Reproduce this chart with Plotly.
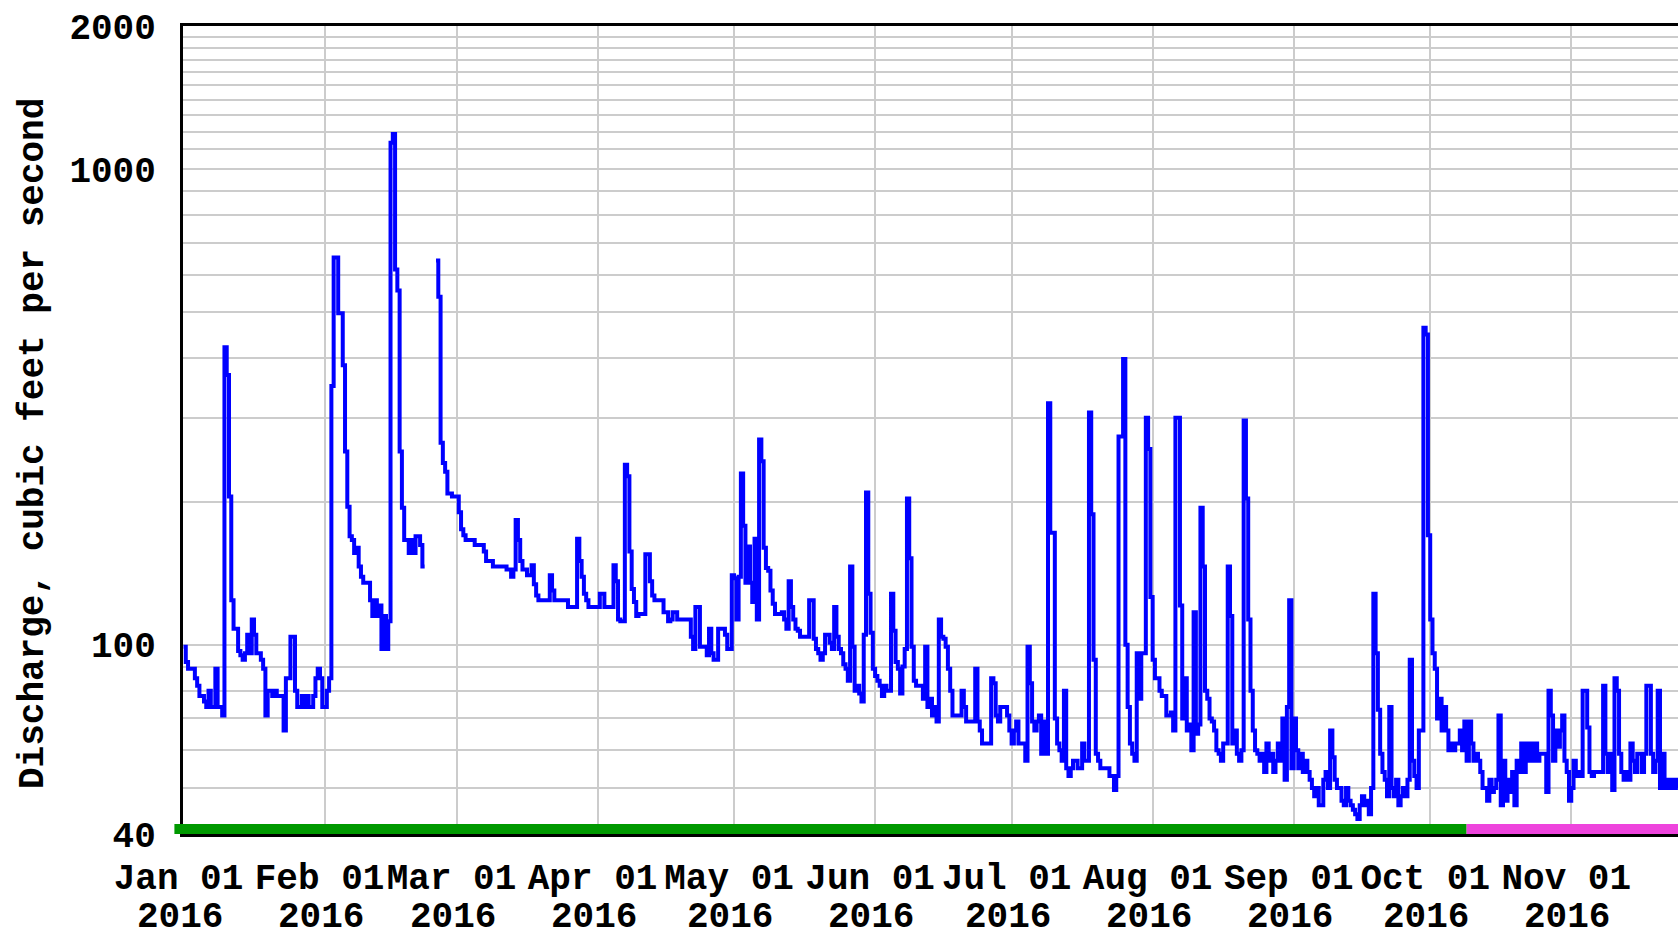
import pandas as pd
import plotly.graph_objects as go

# Discharge (cubic feet per second), two readings per day (00:00, 12:00), 2016
jan = [99, 92, 89, 89, 89, 85, 82, 78, 78, 76, 74, 80, 74, 74, 89, 74, 74, 71, 422, 369,
       205, 124, 108, 108, 97, 95, 93, 96, 105, 96, 113, 105, 96, 96, 93, 89, 71, 80, 80, 78,
       80, 78, 78, 78, 66, 85, 85, 104, 104, 80, 74, 74, 78, 74, 78, 74, 74, 78, 85, 89, 85, 74]
feb = [74, 80, 85, 350, 652, 652, 498, 498, 387, 255, 195, 169, 166, 156, 160, 146, 139, 135, 135, 135,
       124, 115, 124, 115, 121, 98, 115, 98, 112, 1137, 1186, 615, 556, 255, 194, 166, 166, 156, 166, 156,
       169, 169, 162, 146, 146, None, None, None, None, 643, 539, 266, 241, 231, 208, 208, 205, 205]
mar = [205, 190, 175, 170, 166, 166, 166, 166, 162, 162, 162, 162, 157, 150, 150, 150, 146, 146, 146, 146,
       146, 146, 144, 144, 139, 144, 183, 166, 150, 144, 144, 140, 140, 147, 134, 127, 124, 124, 124, 124,
       124, 140, 130, 124, 124, 124, 124, 124, 124, 120, 120, 120, 120, 167, 150, 139, 128, 124, 120, 120,
       120, 120]
apr = [120, 128, 128, 120, 120, 120, 120, 147, 136, 113, 112, 112, 239, 226, 157, 131, 123, 115, 116, 116,
       116, 155, 155, 136, 127, 124, 124, 124, 124, 117, 117, 112, 113, 117, 117, 113, 113, 113, 113, 113,
       113, 104, 98, 120, 120, 99, 99, 99, 95, 108, 96, 93, 93, 108, 108, 108, 105, 98, 98, 140]
may = [138, 113, 139, 229, 178, 135, 161, 135, 123, 167, 113, 270, 243, 160, 145, 143, 130, 122, 116, 116,
       116, 117, 113, 108, 136, 120, 113, 108, 107, 104, 104, 104, 104, 124, 124, 103, 98, 96, 93, 96,
       105, 105, 101, 98, 120, 104, 98, 96, 91, 89, 84, 146, 99, 80, 82, 79, 76, 105, 209, 128,
       106, 89]
jun = [86, 84, 82, 78, 82, 80, 80, 128, 107, 92, 89, 79, 90, 98, 203, 152, 99, 84, 82, 82,
       82, 77, 99, 74, 77, 71, 74, 69, 113, 104, 103, 99, 89, 80, 71, 71, 71, 71, 80, 74,
       69, 69, 69, 69, 89, 69, 66, 62, 62, 62, 62, 85, 83, 71, 69, 74, 74, 74, 71, 66]
jul = [62, 66, 69, 62, 62, 62, 57, 99, 83, 69, 66, 69, 71, 59, 69, 59, 322, 172, 172, 70,
       62, 60, 57, 80, 55, 53, 55, 57, 57, 55, 55, 62, 57, 57, 308, 188, 93, 59, 57, 55,
       55, 55, 55, 53, 53, 49.5, 53, 274, 274, 399, 100, 74, 62, 59, 57, 96, 77, 96, 96, 300,
       258, 126]
aug = [93, 85, 85, 80, 78, 78, 71, 71, 72, 66, 300, 300, 121, 70, 85, 66, 68, 60, 117, 65,
       68, 194, 146, 80, 77, 70, 69, 66, 60, 59, 57, 62, 62, 146, 115, 62, 66, 59, 57, 60,
       296, 203, 113, 80, 66, 60, 59, 57, 59, 54, 62, 57, 59, 54, 57, 62, 57, 70, 52, 74,
       124, 55]
sep = [70, 60, 55, 59, 54, 57, 54, 52, 50, 48, 50, 46, 46, 52, 54, 50, 66, 58, 52, 50,
       50, 47, 46, 50, 47, 46, 45, 44, 43, 46, 48, 46, 47, 44, 50, 128, 96, 73, 59, 54,
       52, 48, 74, 50, 48, 52, 46, 48, 50, 48, 52, 93, 57, 53, 50, 66, 66, 464, 449, 170]
oct_ = [113, 96, 89, 70, 77, 66, 74, 66, 60, 62, 60, 62, 62, 66, 60, 69, 57, 69, 62, 57,
        59, 57, 54, 50, 50, 47, 52, 49, 50, 52, 71, 46, 57, 47, 52, 49, 54, 46, 57, 54,
        62, 54, 62, 57, 62, 57, 62, 57, 59, 59, 59, 49, 80, 71, 57, 66, 61, 66, 71, 57,
        54, 47]
nov = [50, 57, 53, 54, 53, 80, 80, 67, 54, 53, 54, 54, 54, 54, 82, 59, 54, 59, 49.5, 85,
       80, 59, 54, 52, 54, 52, 62, 57, 54, 59, 59, 54, 59, 82, 82, 59, 54, 57, 80, 50,
       59, 50, 52, 50, 52, 50, 52, 50]

flow = jan + feb + mar + apr + may + jun + jul + aug + sep + oct_ + nov
times = pd.date_range("2016-01-01", periods=len(flow), freq="12h")

# axis ticks
month_ticks = ["2016-01-01", "2016-02-01", "2016-03-01", "2016-04-01", "2016-05-01", "2016-06-01",
               "2016-07-01", "2016-08-01", "2016-09-01", "2016-10-01", "2016-11-01"]
month_labels = ["Jan 01", "Feb 01", "Mar 01", "Apr 01", "May 01", "Jun 01",
                "Jul 01", "Aug 01", "Sep 01", "Oct 01", "Nov 01"]
year_labels = ["2016"] * len(month_ticks)

y_grid = [40, 50, 60, 70, 80, 90, 100, 200, 300, 400, 500, 600, 700, 800, 900,
          1000, 1100, 1200, 1300, 1400, 1500, 1600, 1700, 1800, 1900, 2000]
y_labels = {40: "40", 100: "100", 1000: "1000", 2000: "2000"}
y_text = [y_labels.get(v, "") for v in y_grid]

# approval status periods
status_start = ["2015-12-30", "2016-10-09"]
status_end = ["2016-10-09", "2016-11-24 11:00"]
status_color = ["#009900", "#ee44dd"]

x_range = ["2015-12-31 21:22", "2016-11-24 11:00"]
FONT = "Liberation Mono"
BOLD = dict(family=FONT, size=36, color="black", weight="bold")

fig = go.Figure()
fig.add_trace(go.Scatter(x=times, y=flow, mode="lines", line=dict(color="#0000ff", width=4, shape="hv"),
                         connectgaps=False, hoverinfo="skip", showlegend=False))

t0 = pd.Timestamp(x_range[0])
t1 = pd.Timestamp(x_range[1])
span = (t1 - t0).total_seconds()


def frac(d):
    return (pd.Timestamp(d) - t0).total_seconds() / span


PLOT_H = 808
for s, e, c in zip(status_start, status_end, status_color):
    fig.add_shape(type="rect", xref="paper", yref="paper", x0=frac(s), x1=min(frac(e), 1.0),
                  y0=0, y1=10 / PLOT_H, fillcolor=c, line=dict(width=0), layer="above")

for t, lab in zip(month_ticks, year_labels):
    fig.add_annotation(x=t, xref="x", y=(834 - 917.5) / PLOT_H, yref="paper", text=lab, showarrow=False,
                       xanchor="center", yanchor="middle", valign="middle", xshift=-4, borderpad=0,
                       height=30, font=BOLD)

fig.add_annotation(x=(33 - 183) / 1495, xref="paper", y=(834 - 444) / PLOT_H, yref="paper",
                   text="Discharge, cubic feet per second", textangle=-90, showarrow=False,
                   xanchor="center", yanchor="middle", font=BOLD)

fig.update_layout(
    width=1678, height=933,
    margin=dict(l=183, r=0, t=26, b=933 - 26 - PLOT_H),
    paper_bgcolor="white", plot_bgcolor="white",
    font=BOLD,
    xaxis=dict(type="date", range=x_range, tickmode="array", tickvals=month_ticks, ticktext=month_labels,
               showgrid=True, gridcolor="#cccccc", gridwidth=2.4, showline=True, linecolor="black",
               linewidth=3, mirror=True, ticks="", ticklabelstandoff=9, ticklabelshift=-5,
               zeroline=False, tickfont=BOLD),
    yaxis=dict(type="log", range=[1.60206, 3.30103], tickmode="array", tickvals=y_grid, ticktext=y_text,
               showgrid=True, gridcolor="#cccccc", gridwidth=2.4, showline=True, linecolor="black",
               linewidth=3, mirror=False, ticks="", ticklabelstandoff=17, zeroline=False,
               tickfont=BOLD),
)

fig.write_html("out.html", config={"displayModeBar": False},
               post_script="document.body.style.margin='0';")
